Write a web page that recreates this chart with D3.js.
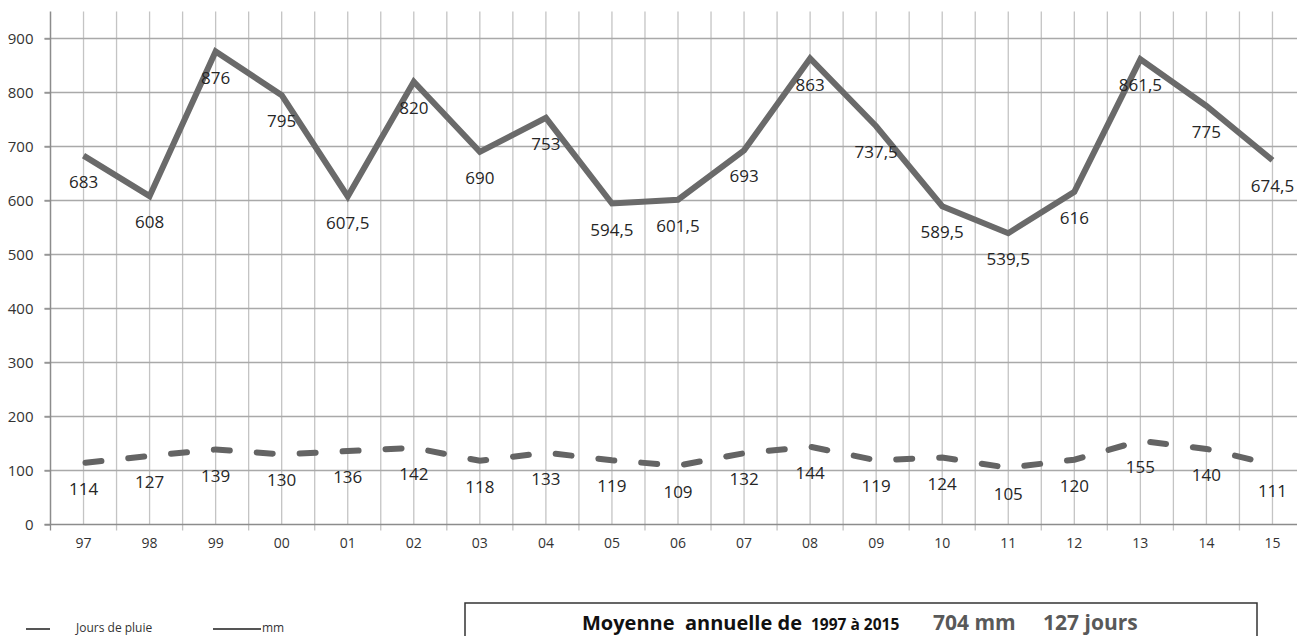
<!DOCTYPE html>
<html><head><meta charset="utf-8">
<script src="https://cdn.jsdelivr.net/npm/d3@7"></script>
<style>
html,body{margin:0;padding:0;background:#fff;overflow:hidden}
svg{display:block;font-family:"Open Sans",sans-serif}
</style></head>
<body><svg id="c" width="1297" height="636"></svg>
<script>
const years = ["97","98","99","00","01","02","03","04","05","06","07","08","09","10","11","12","13","14","15"];
const mm = [683,608,876,795,607.5,820,690,753,594.5,601.5,693,863,737.5,589.5,539.5,616,861.5,775,674.5];
const jours = [114,127,139,130,136,142,118,133,119,109,132,144,119,124,105,120,155,140,111];
const yTicks = [0,100,200,300,400,500,600,700,800,900];
const fmt = v => String(v).replace(".", ",");

(function(){
const svg = d3.select("#c");
svg.append("rect").attr("width",1297).attr("height",636).attr("fill","#fff");

const x = d3.scaleBand().domain(years).range([50.5,1305.5]).padding(0);
const cx = d => x(d) + x.bandwidth()/2;
const y = d3.scaleLinear().domain([0,950]).range([524.5,11.5]);
const pTop = y(950), pBottom = y(0), pLeft = x.range()[0];

// vertical gridlines: band centres and band boundaries
const g = svg.append("g");
years.forEach((d,i) => {
  g.append("line").attr("x1",cx(d)).attr("x2",cx(d)).attr("y1",pTop).attr("y2",pBottom)
    .attr("stroke","#c4c4c4").attr("stroke-width",1.3);
  if (i>0) g.append("line").attr("x1",x(d)).attr("x2",x(d)).attr("y1",pTop).attr("y2",pBottom+6)
    .attr("stroke","#c4c4c4").attr("stroke-width",1.3);
});
// horizontal gridlines
yTicks.forEach(v => {
  if (v>0) g.append("line").attr("x1",pLeft-6).attr("x2",1297).attr("y1",y(v)).attr("y2",y(v))
    .attr("stroke","#a9a9a9").attr("stroke-width",1.3);
});

// Y axis
const ya = svg.append("g").attr("transform",`translate(${pLeft},0)`)
  .call(d3.axisLeft(y).tickValues(yTicks).tickSize(6).tickPadding(11));
ya.select(".domain").attr("stroke","#8c8c8c").attr("stroke-width",1.5).attr("d",`M0,${pTop}V${pBottom}`);
ya.selectAll(".tick line").attr("stroke","#8c8c8c").attr("stroke-width",1.3);
ya.selectAll(".tick text").attr("font-size",15).attr("fill","#333").attr("font-family","Open Sans");

// X axis
const xa = svg.append("g").attr("transform",`translate(0,${pBottom})`)
  .call(d3.axisBottom(x).tickSize(0).tickPadding(14));
xa.select(".domain").attr("stroke","#8c8c8c").attr("stroke-width",1.5).attr("d",`M${pLeft-6},0H1297`);
xa.selectAll(".tick text").attr("font-size",14).attr("fill","#333").attr("font-family","Open Sans");
xa.append("line").attr("x1",pLeft).attr("x2",pLeft).attr("y1",0).attr("y2",6).attr("stroke","#8c8c8c").attr("stroke-width",1.3);

// lines
const lineGen = d3.line().x((d,i)=>cx(years[i])).y(d=>y(d));
svg.append("path").datum(jours).attr("d",lineGen).attr("fill","none")
  .attr("stroke","#646464").attr("stroke-width",6).attr("stroke-linecap","round")
  .attr("stroke-dasharray","16,27").attr("stroke-dashoffset",-2);
svg.append("path").datum(mm).attr("d",lineGen).attr("fill","none")
  .attr("stroke","#6a6a6a").attr("stroke-width",6).attr("stroke-linejoin","miter");

// data labels
const lab = (arr) => svg.append("g").selectAll("text").data(arr).join("text")
  .attr("x",(d,i)=>cx(years[i])).attr("y",d=>y(d)+26).attr("dy","0.36em")
  .attr("text-anchor","middle").attr("font-size",17).attr("fill","#262626")
  .text(d=>fmt(d));
lab(mm); lab(jours);

// legend
const lg = svg.append("g").attr("font-size",12).attr("fill","#333");
lg.append("line").attr("x1",26).attr("x2",50).attr("y1",629).attr("y2",629).attr("stroke","#555").attr("stroke-width",2);
lg.append("text").attr("x",76).attr("y",632).text("Jours de pluie");
lg.append("line").attr("x1",213).attr("x2",261).attr("y1",629).attr("y2",629).attr("stroke","#555").attr("stroke-width",2);
lg.append("text").attr("x",262).attr("y",632).text("mm");

// summary box
svg.append("rect").attr("x",465).attr("y",603).attr("width",792).attr("height",60)
  .attr("fill","#fff").attr("stroke","#333").attr("stroke-width",1.5);
const bt = svg.append("g").attr("font-weight","bold");
bt.append("text").attr("x",582).attr("y",630).attr("font-size",20).attr("fill","#111").attr("xml:space","preserve").text("Moyenne  annuelle de");
bt.append("text").attr("x",811).attr("y",630).attr("font-size",15.5).attr("fill","#111").text("1997 à 2015");
bt.append("text").attr("x",933).attr("y",630).attr("font-size",21).attr("fill","#595959").text("704 mm");
bt.append("text").attr("x",1043).attr("y",630).attr("font-size",21).attr("fill","#595959").text("127 jours");
})();
</script></body></html>
